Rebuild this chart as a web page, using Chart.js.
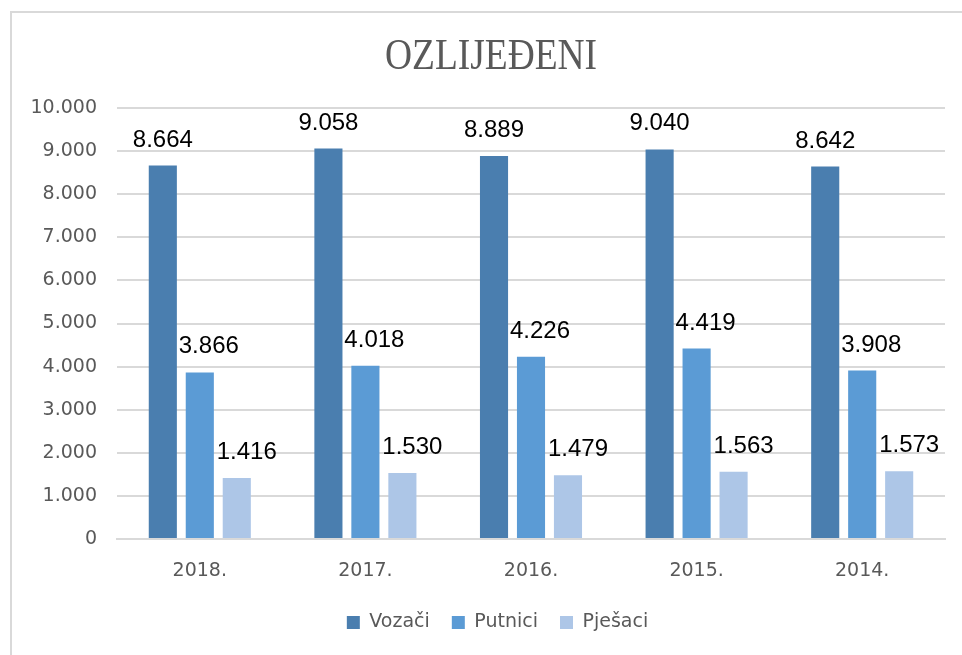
<!DOCTYPE html>
<html>
<head>
<meta charset="utf-8">
<script src="https://cdn.jsdelivr.net/npm/chart.js@4"></script>
<style>
html,body{margin:0;padding:0;background:#fff;}
#wrap{position:relative;width:962px;height:655px;overflow:hidden;}
#frame{position:absolute;left:10px;top:11px;width:1000px;height:700px;border-top:2px solid #d9d9d9;border-left:2px solid #d9d9d9;box-sizing:border-box;}
canvas{position:absolute;left:0;top:0;}
</style>
</head>
<body>
<div id="wrap">
<div id="frame"></div>
<canvas id="c" width="962" height="655"></canvas>
</div>
<script>
const categories = ['2018.', '2017.', '2016.', '2015.', '2014.'];
const vozaci = [8664, 9058, 8889, 9040, 8642];
const putnici = [3866, 4018, 4226, 4419, 3908];
const pjesaci = [1416, 1530, 1479, 1563, 1573];
const seriesNames = ['Vozači', 'Putnici', 'Pješaci'];
const yTicks = [0, 1000, 2000, 3000, 4000, 5000, 6000, 7000, 8000, 9000, 10000];
const titleText = 'OZLIJEĐENI';

const colors = ['#4a7eaf', '#5b9bd5', '#adc6e7'];
const labelShift = [0, 9, 10];
const axisFont = '"DejaVu Sans", "Liberation Sans", sans-serif';

function fmt(v) {
  return v.toString().replace(/\B(?=(\d{3})+(?!\d))/g, '.');
}

const labelPlugin = {
  id: 'valueLabels',
  afterDatasetsDraw(chart) {
    const ctx = chart.ctx;
    ctx.save();
    ctx.font = '24px "Liberation Sans", Arial, sans-serif';
    ctx.fillStyle = '#000000';
    ctx.textAlign = 'center';
    ctx.textBaseline = 'alphabetic';
    chart.data.datasets.forEach((ds, di) => {
      const meta = chart.getDatasetMeta(di);
      meta.data.forEach((bar, i) => {
        ctx.fillText(fmt(ds.data[i]), bar.x + labelShift[di], bar.y - 19);
      });
    });
    ctx.restore();
  }
};

const titlePlugin = {
  id: 'condensedTitle',
  afterDraw(chart) {
    const ctx = chart.ctx;
    ctx.save();
    ctx.font = '45px "Liberation Serif", "Times New Roman", serif';
    ctx.fillStyle = '#595959';
    ctx.textAlign = 'center';
    ctx.textBaseline = 'alphabetic';
    const w = ctx.measureText(titleText).width;
    const sx = 212 / w;
    ctx.translate(491, 69);
    ctx.scale(sx, 1);
    ctx.fillText(titleText, 0, 0);
    ctx.restore();
  }
};

const legendShift = {
  id: 'legendShift',
  afterLayout(chart) {
    if (chart.legend) {
      chart.legend.left += 25;
      chart.legend.right += 25;
    }
  }
};

new Chart(document.getElementById('c'), {
  type: 'bar',
  data: {
    labels: categories,
    datasets: [
      { label: seriesNames[0], data: vozaci, backgroundColor: colors[0] },
      { label: seriesNames[1], data: putnici, backgroundColor: colors[1] },
      { label: seriesNames[2], data: pjesaci, backgroundColor: colors[2] }
    ]
  },
  options: {
    responsive: false,
    animation: false,
    devicePixelRatio: 1,
    layout: { padding: { left: 0, right: 17, top: 108, bottom: 13 } },
    datasets: { bar: { categoryPercentage: 0.67, barPercentage: 0.76 } },
    plugins: {
      title: { display: false },
      legend: {
        position: 'bottom',
        labels: {
          color: '#595959',
          font: { family: axisFont, size: 19 },
          boxWidth: 13,
          boxHeight: 13,
          padding: 22,
          useBorderRadius: false
        }
      },
      tooltip: { enabled: false }
    },
    scales: {
      x: {
        afterFit(scale) { scale.height = 52; },
        grid: { display: false, drawTicks: false },
        border: { display: true, color: '#d9d9d9', width: 2 },
        ticks: {
          color: '#595959',
          font: { family: axisFont, size: 19 },
          padding: 21
        }
      },
      y: {
        min: 0,
        max: 10000,
        afterFit(scale) { scale.width = 117; },
        afterBuildTicks(scale) { scale.ticks = yTicks.map(v => ({ value: v })); },
        grid: { color: '#d9d9d9', lineWidth: 2, drawTicks: false },
        border: { display: false },
        ticks: {
          color: '#595959',
          font: { family: axisFont, size: 19 },
          padding: 20,
          callback: (v) => fmt(v)
        }
      }
    }
  },
  plugins: [labelPlugin, titlePlugin, legendShift]
});
</script>
</body>
</html>
